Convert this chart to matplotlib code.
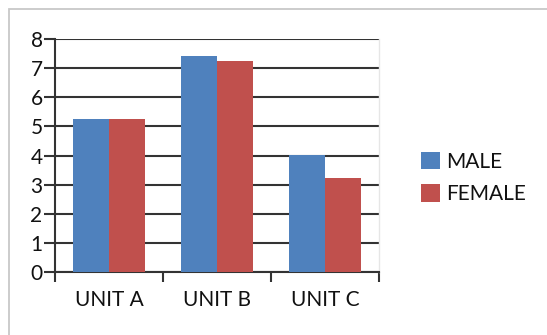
import matplotlib
matplotlib.use("Agg")
import matplotlib.pyplot as plt
from matplotlib.patches import Rectangle
import numpy as np

categories = ["UNIT A", "UNIT B", "UNIT C"]
male = [5.27, 7.40, 4.02]
female = [5.25, 7.24, 3.24]
series_names = ["MALE", "FEMALE"]
colors = ["#4F81BD", "#C0504D"]

plt.rcParams["font.family"] = ["Lato", "DejaVu Sans"]

W, H = 547, 335
fig = plt.figure(figsize=(W / 100, H / 100), dpi=100)

# outer chart-area frame
fig.patches.append(Rectangle((9 / W, -0.1), 1.2, 1 - 9 / H + 0.1,
                             transform=fig.transFigure, fill=False,
                             edgecolor="#c8c8c8", linewidth=1.3))

ax = fig.add_axes([55 / W, 1 - 272 / H, (379 - 55) / W, (272 - 39) / H])

x = np.arange(len(categories))
bw = 1 / 3
b1 = ax.bar(x - bw / 2, male, width=bw, color=colors[0], label=series_names[0], zorder=3)
b2 = ax.bar(x + bw / 2, female, width=bw, color=colors[1], label=series_names[1], zorder=3)

ax.set_xlim(-0.5, 2.5)
ax.set_ylim(0, 8)
ax.set_yticks(range(0, 9))
ax.yaxis.grid(True, color="#333333", linewidth=1.5, zorder=1)
ax.set_axisbelow(True)

ax.set_xticks([-0.5, 0.5, 1.5, 2.5])
ax.set_xticklabels([])
ax.set_xticks(x, minor=True)
ax.set_xticklabels(categories, minor=True)
ax.tick_params(axis="x", which="minor", length=0, pad=13, labelsize=15, labelcolor="#111111")
ax.tick_params(axis="x", which="major", direction="out", length=7, width=1.5, color="#333333")
ax.tick_params(axis="y", direction="out", length=8, width=1.5, color="#333333",
               labelsize=15, labelcolor="#111111", pad=1)

for s in ["left", "bottom"]:
    ax.spines[s].set_color("#333333")
    ax.spines[s].set_linewidth(1.5)
ax.spines["top"].set_visible(False)
ax.spines["right"].set_color("#e6e6e6")
ax.spines["right"].set_linewidth(1.0)

fig.legend(handles=[b1, b2], labels=series_names, loc="upper left",
           bbox_to_anchor=(402 / W, 1 - 133 / H), frameon=False,
           fontsize=15, handlelength=0.9, handleheight=0.9,
           handletextpad=0.3, labelspacing=0.6, labelcolor="#111111")

fig.savefig("out.png", dpi=100)
